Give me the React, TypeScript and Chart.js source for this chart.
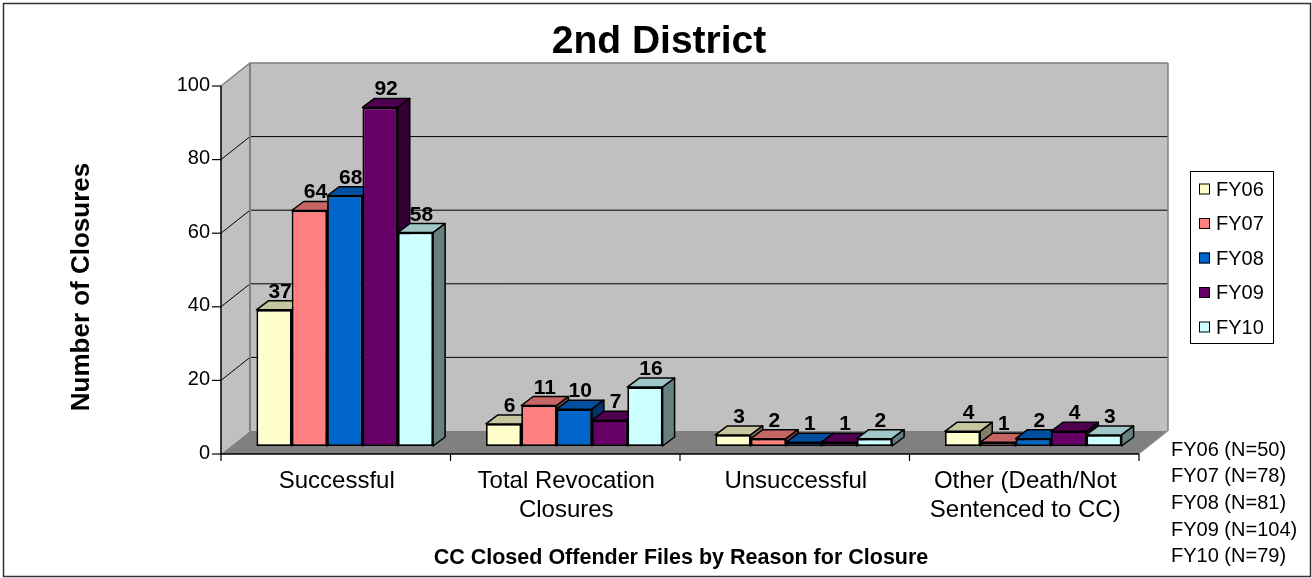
import React, { useEffect, useRef } from "react";
import { Chart, registerables } from "chart.js";

Chart.register(...registerables);

// ---- data ----
const categories: string[][] = [
  ["Successful"],
  ["Total Revocation", "Closures"],
  ["Unsuccessful"],
  ["Other (Death/Not", "Sentenced to CC)"],
];
const seriesNames = ["FY06", "FY07", "FY08", "FY09", "FY10"];
const fy06 = [37, 6, 3, 4];
const fy07 = [64, 11, 2, 1];
const fy08 = [68, 10, 1, 2];
const fy09 = [92, 7, 1, 4];
const fy10 = [58, 16, 2, 3];
const totals = [50, 78, 81, 104, 79];
const yTicks = [0, 20, 40, 60, 80, 100];
const colors = ["#FFFFCC", "#FF8080", "#0066CC", "#660066", "#CCFFFF"];
const chartTitle = "2nd District";
const yTitle = "Number of Closures";
const xTitle = "CC Closed Offender Files by Reason for Closure";

const FAMILY = "'Liberation Sans', Arial, sans-serif";

// pseudo-3D offsets (relative to the bar plane)
const FRONT = { dx: -9, dy: 8 };
const BACK = { dx: 20, dy: -15 };
const DEPTH = { dx: 12, dy: -9 };

function shade(hex: string, f: number): string {
  const n = parseInt(hex.slice(1), 16);
  const r = Math.round(((n >> 16) & 255) * f);
  const g = Math.round(((n >> 8) & 255) * f);
  const b = Math.round((n & 255) * f);
  return `rgb(${r},${g},${b})`;
}

function poly(ctx: CanvasRenderingContext2D, pts: number[][], fill?: string, stroke?: string, lw = 1) {
  ctx.beginPath();
  ctx.moveTo(pts[0][0], pts[0][1]);
  for (let i = 1; i < pts.length; i++) ctx.lineTo(pts[i][0], pts[i][1]);
  ctx.closePath();
  if (fill) {
    ctx.fillStyle = fill;
    ctx.fill();
  }
  if (stroke) {
    ctx.strokeStyle = stroke;
    ctx.lineWidth = lw;
    ctx.stroke();
  }
}

function line(ctx: CanvasRenderingContext2D, pts: number[][], stroke: string, lw = 1) {
  ctx.beginPath();
  ctx.moveTo(pts[0][0], pts[0][1]);
  for (let i = 1; i < pts.length; i++) ctx.lineTo(pts[i][0], pts[i][1]);
  ctx.strokeStyle = stroke;
  ctx.lineWidth = lw;
  ctx.stroke();
}

const pseudo3d = {
  id: "pseudo3d",
  beforeDraw(chart: any) {
    const ctx: CanvasRenderingContext2D = chart.ctx;
    const { left, right } = chart.chartArea;
    const ys = chart.scales.y;
    const xs = chart.scales.x;
    const vMax = yTicks[yTicks.length - 1];
    const F = (v: number) => ys.getPixelForValue(v) + FRONT.dy;
    const B = (v: number) => ys.getPixelForValue(v) + BACK.dy;
    const fl = left + FRONT.dx, fr = right + FRONT.dx;
    const bl = left + BACK.dx, br = right + BACK.dx;

    ctx.save();
    ctx.fillStyle = "#ffffff";
    ctx.fillRect(0, 0, chart.width, chart.height);
    // outer frame
    ctx.strokeStyle = "#333";
    ctx.lineWidth = 1.5;
    ctx.strokeRect(3.5, 3.5, chart.width - 5, chart.height - 5);

    // back wall
    poly(ctx, [[bl, B(vMax)], [br, B(vMax)], [br, B(0)], [bl, B(0)]], "#C0C0C0");
    // left wall
    poly(ctx, [[fl, F(vMax)], [bl, B(vMax)], [bl, B(0)], [fl, F(0)]], "#C0C0C0");
    // floor
    poly(ctx, [[fl, F(0)], [fr, F(0)], [br, B(0)], [bl, B(0)]], "#808080");

    // grid lines
    for (const v of yTicks) {
      if (v === 0) continue;
      const col = v === vMax ? "#808080" : "#000";
      line(ctx, [[fl, F(v)], [bl, B(v)], [br, B(v)]], col, v === vMax ? 1.5 : 1);
    }
    // wall edges
    line(ctx, [[bl, B(vMax)], [bl, B(0)]], "#808080", 2);
    line(ctx, [[br, B(vMax)], [br, B(0)]], "#808080", 1.5);
    line(ctx, [[fr, F(0)], [br, B(0)]], "#A0A0A0", 1);

    // front axes
    line(ctx, [[fl, F(vMax)], [fl, F(0)], [fr, F(0)]], "#000", 1.5);
    for (const v of yTicks) line(ctx, [[fl - 9, F(v)], [fl, F(v)]], "#000", 1.2);
    const n = categories.length;
    const centers = categories.map((_, i) => xs.getPixelForValue(i));
    const bounds = [left];
    for (let i = 1; i < n; i++) bounds.push((centers[i - 1] + centers[i]) / 2);
    bounds.push(right);
    for (const b of bounds) line(ctx, [[b + FRONT.dx, F(0)], [b + FRONT.dx, F(0) + 7]], "#000", 1.2);
    ctx.restore();
  },
  beforeDatasetsDraw(chart: any) {
    const ctx: CanvasRenderingContext2D = chart.ctx;
    ctx.save();
    ctx.lineJoin = "round";
    const nCat = categories.length;
    for (let i = 0; i < nCat; i++) {
      chart.data.datasets.forEach((ds: any, d: number) => {
        const el = chart.getDatasetMeta(d).data[i];
        const { x, y, base, width } = el.getProps(["x", "y", "base", "width"], true);
        const l = x - width / 2, r = x + width / 2;
        const c = colors[d];
        poly(ctx, [[l, y], [r, y], [r + DEPTH.dx, y + DEPTH.dy], [l + DEPTH.dx, y + DEPTH.dy]], shade(c, 0.78), "#000", 1.5);
        poly(ctx, [[r, y], [r + DEPTH.dx, y + DEPTH.dy], [r + DEPTH.dx, base + DEPTH.dy], [r, base]], shade(c, 0.5), "#000", 1.5);
      });
    }
    ctx.restore();
  },
  afterDatasetsDraw(chart: any) {
    const ctx: CanvasRenderingContext2D = chart.ctx;
    ctx.save();
    ctx.font = `bold 21px ${FAMILY}`;
    ctx.fillStyle = "#000";
    ctx.textAlign = "center";
    ctx.textBaseline = "alphabetic";
    chart.data.datasets.forEach((ds: any, d: number) => {
      chart.getDatasetMeta(d).data.forEach((el: any, i: number) => {
        const { x, y } = el.getProps(["x", "y"], true);
        ctx.fillText(String(ds.data[i]), x + DEPTH.dx / 2, y + DEPTH.dy - 3);
      });
    });
    ctx.restore();
  },
  afterDraw(chart: any) {
    const ctx: CanvasRenderingContext2D = chart.ctx;
    ctx.save();
    ctx.fillStyle = "#000";
    // title
    ctx.font = `bold 39px ${FAMILY}`;
    ctx.textAlign = "center";
    ctx.textBaseline = "alphabetic";
    ctx.fillText(chartTitle, 659, 53);
    // x title
    ctx.font = `bold 21.5px ${FAMILY}`;
    ctx.fillText(xTitle, 681, 564);
    // y title
    ctx.save();
    ctx.translate(89, 287);
    ctx.rotate(-Math.PI / 2);
    ctx.font = `bold 26px ${FAMILY}`;
    ctx.fillText(yTitle, 0, 0);
    ctx.restore();

    // legend
    const lx = 1190.5, ly = 171.5, lw = 83, lh = 172;
    ctx.fillStyle = "#fff";
    ctx.fillRect(lx, ly, lw, lh);
    ctx.strokeStyle = "#000";
    ctx.lineWidth = 1;
    ctx.strokeRect(lx, ly, lw, lh);
    ctx.font = `20px ${FAMILY}`;
    ctx.textAlign = "left";
    ctx.textBaseline = "middle";
    seriesNames.forEach((name, i) => {
      const cy = 189 + i * 34.5;
      ctx.fillStyle = colors[i];
      ctx.fillRect(1199, cy - 5.5, 11, 11);
      ctx.strokeStyle = "#000";
      ctx.strokeRect(1199.5, cy - 5, 10, 10);
      ctx.fillStyle = "#000";
      ctx.fillText(name, 1216, cy + 1);
    });

    // N labels
    ctx.font = `20px ${FAMILY}`;
    seriesNames.forEach((name, i) => {
      ctx.fillText(`${name} (N=${totals[i]})`, 1171, 450 + i * 26.7);
    });
    ctx.restore();
  },
};

export default function App() {
  const ref = useRef<HTMLCanvasElement>(null);
  useEffect(() => {
    if (!ref.current) return;
    const series = [fy06, fy07, fy08, fy09, fy10];
    const chart = new Chart(ref.current, {
      type: "bar",
      data: {
        labels: categories,
        datasets: series.map((s, i) => ({
          label: seriesNames[i],
          data: s,
          backgroundColor: colors[i],
          borderColor: "#000",
          borderWidth: 1.8,
          borderSkipped: false,
          barPercentage: 1,
          categoryPercentage: 0.77,
        })),
      },
      options: {
        animation: false,
        responsive: false,
        layout: { padding: { left: 0, right: 164, top: 78, bottom: 0 } },
        plugins: {
          legend: { display: false },
          title: { display: false },
          tooltip: { enabled: false },
        },
        scales: {
          x: {
            grid: { display: false, drawTicks: false },
            border: { display: false },
            ticks: {
              color: "#000",
              font: { size: 24, family: FAMILY, lineHeight: 1.2 },
              padding: 21,
              labelOffset: -8,
              maxRotation: 0,
              minRotation: 0,
              autoSkip: false,
            },
            afterFit: (s: any) => {
              s.height = 132;
            },
          },
          y: {
            min: yTicks[0],
            max: yTicks[yTicks.length - 1],
            grid: { display: false, drawTicks: false },
            border: { display: false },
            afterBuildTicks: (s: any) => {
              s.ticks = yTicks.map((v) => ({ value: v }));
            },
            ticks: {
              color: "#000",
              font: { size: 20, family: FAMILY },
              padding: 20,
              labelOffset: 7,
            },
            afterFit: (s: any) => {
              s.width = 230;
            },
          },
        },
      },
      plugins: [pseudo3d],
    });
    return () => chart.destroy();
  }, []);
  return (
    <div style={{ position: "fixed", left: 0, top: 0, width: 1312, height: 578 }}>
      <canvas ref={ref} width={1312} height={578} style={{ display: "block", width: 1312, height: 578 }} />
    </div>
  );
}
